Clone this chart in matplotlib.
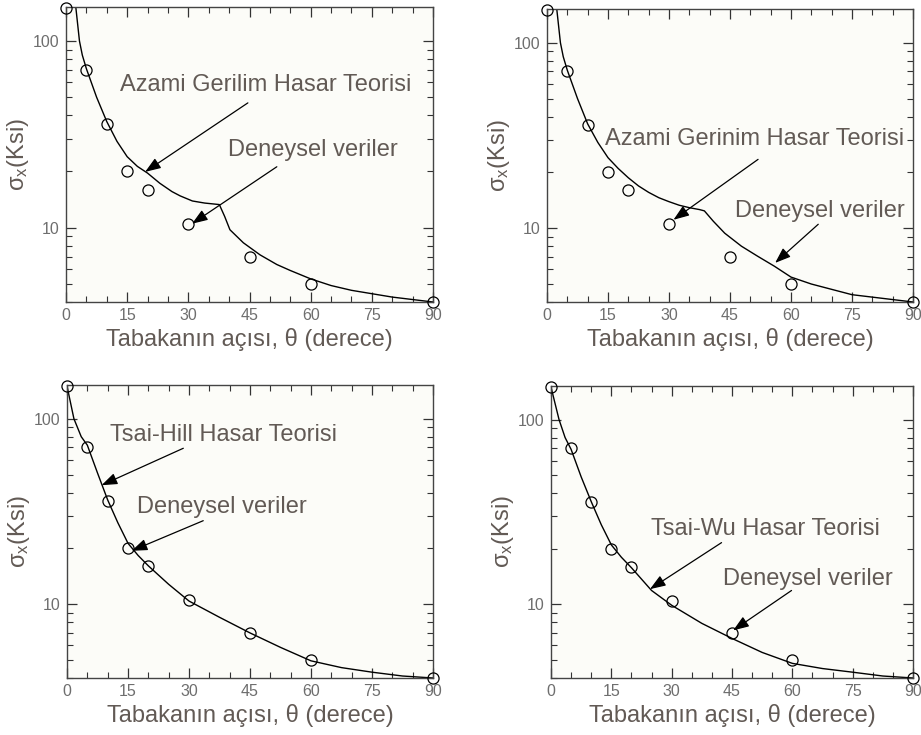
import matplotlib
matplotlib.use("Agg")
import matplotlib.pyplot as plt
from matplotlib.ticker import MultipleLocator, FixedLocator, FixedFormatter, LogLocator, NullFormatter

plt.rcParams['font.family'] = ['Liberation Sans', 'DejaVu Sans']
plt.rcParams['mathtext.fontset'] = 'custom'
plt.rcParams['mathtext.rm'] = 'Liberation Sans'
plt.rcParams['mathtext.it'] = 'Liberation Sans'

# deneysel veriler (ayni noktalar dort grafikte de var)
theta_exp = [0, 5, 10, 15, 20, 30, 45, 60, 90]
sigma_exp = [150, 70, 36, 20, 16, 10.5, 7, 5, 4]

# azami gerilim
theta_ms = [2.4, 3.3, 4, 5, 7.5, 10, 12.5, 15, 17.5, 20, 23, 26, 28, 31, 34, 37.6,
            38.9, 40.2, 43.5, 47.6, 51.7, 55, 60, 65, 70, 80, 90]
sigma_ms = [152, 100, 84, 71, 50, 37, 29, 24, 21.3, 19.6, 17.3, 15.6, 14.8, 13.9, 13.55, 13.3,
            11.5, 9.75, 8.3, 7.15, 6.35, 5.9, 5.32, 4.9, 4.62, 4.25, 4.0]

# azami gerinim
theta_me = [2.4, 3.3, 4, 5, 7.5, 10, 12.5, 15, 17.5, 20, 22.5, 25, 27.5, 30, 32.5, 35, 37.5,
            38.7, 40.9, 43.7, 47.8, 51.8, 55.9, 60, 65, 75, 90]
sigma_me = [152, 100, 84, 71, 50, 36.5, 29, 24, 21, 18.7, 16.9, 15.6, 14.6, 13.9, 13.3, 12.9, 12.6,
            12.4, 10.9, 9.4, 8.0, 7.06, 6.24, 5.45, 5.0, 4.38, 4.0]

# tsai-hill
theta_th = [0, 1.7, 3.5, 5, 7.5, 10, 12.5, 15, 17.5, 20, 25, 30, 37.5, 45, 52.5,
            60, 67.5, 75, 82.5, 90]
sigma_th = [150, 100, 80, 72, 51, 36.5, 27.5, 21.3, 18.3, 16.1, 12.8, 10.4, 8.5, 7.0, 5.85,
            4.95, 4.55, 4.3, 4.1, 4.0]

# tsai-wu
theta_tw = [0, 2, 3.5, 5, 7.5, 10, 12.5, 15, 17.5, 20, 25, 30, 37.5, 45, 52.5,
            60, 67.5, 75, 82.5, 90]
sigma_tw = [150, 100, 80, 69, 49, 36, 27, 21, 18, 15.8, 11.9, 9.9, 7.9, 6.55, 5.5,
            4.8, 4.5, 4.3, 4.1, 4.0]

theory_labels = ['Azami Gerilim Hasar Teorisi', 'Azami Gerinim Hasar Teorisi',
                 'Tsai-Hill Hasar Teorisi', 'Tsai-Wu Hasar Teorisi']
exp_label = 'Deneysel veriler'

text_col = '#625a55'
tick_col = '#6e6e6e'

fig = plt.figure(figsize=(9.21, 7.35), dpi=100)

boxes = [(66, 7, 433, 302), (547, 9, 913, 302), (67, 385, 433, 678), (551, 386, 913, 678)]
curves = [(theta_ms, sigma_ms), (theta_me, sigma_me), (theta_th, sigma_th), (theta_tw, sigma_tw)]
# (text1 xy, arrow1 tail, arrow1 head, text2 xy, arrow2 tail, arrow2 head)
notes = [
    ((48.9, 58.2), (44.6, 46.6), (19.4, 19.9), (60.6, 26.1), (51.7, 21.2), (30.9, 10.5)),
    ((51.1, 30.2), (51.9, 23.5), (31.1, 11.1), (67.0, 12.4), (66.7, 10.5), (56.1, 6.5)),
    ((38.6, 81.9), (28.6, 69.3), (8.5, 43.8), (38.0, 33.4), (33.5, 28.2), (15.9, 19.4)),
    ((53.4, 25.5), (42.4, 21.6), (24.6, 12.1), (63.9, 13.7), (59.8, 11.9), (45.3, 7.24)),
]

W, H = 921, 735
for i in range(4):
    l, t, r, b = boxes[i]
    ax = fig.add_axes([l / W, 1 - b / H, (r - l) / W, (b - t) / H])
    ax.set_facecolor('#fcfcf8')
    th, sg = curves[i]
    ax.plot(th, sg, color='black', lw=1.0)
    ax.plot(theta_exp, sigma_exp, 'o', mfc='none', mec='black', ms=8, mew=0.9, clip_on=False, zorder=5)

    ax.set_yscale('log')
    ax.set_xlim(0, 90)
    ax.set_ylim(4, 152)
    ax.xaxis.set_major_locator(MultipleLocator(15))
    ax.xaxis.set_minor_locator(MultipleLocator(5))
    ax.yaxis.set_major_locator(FixedLocator([10, 100]))
    ax.yaxis.set_major_formatter(FixedFormatter(['10', '100']))
    ax.yaxis.set_minor_locator(LogLocator(subs=range(2, 10)))
    ax.yaxis.set_minor_formatter(NullFormatter())
    ax.tick_params(which='both', direction='in', top=True, right=True, colors='#333333',
                   labelcolor=tick_col, labelsize=11.5)
    ax.tick_params(which='major', length=7, width=0.9)
    ax.tick_params(which='minor', length=4, width=0.8)
    ax.tick_params(axis='x', pad=4)
    ax.tick_params(axis='y', pad=5)
    for s in ax.spines.values():
        s.set_color('#444444')
        s.set_linewidth(1.0)

    ax.set_xlabel('Tabakanın açısı, θ (derece)', fontsize=17, color=text_col, labelpad=4)
    ax.set_ylabel('σ$_\\mathrm{x}$(Ksi)', fontsize=17, color=text_col, labelpad=1)

    t1, a1, h1, t2, a2, h2 = notes[i]
    ax.text(t1[0], t1[1], theory_labels[i], fontsize=17, color=text_col, ha='center', va='center')
    ax.text(t2[0], t2[1], exp_label, fontsize=17, color=text_col, ha='center', va='center')
    for tail, head in ((a1, h1), (a2, h2)):
        ax.annotate('', xy=head, xytext=tail,
                    arrowprops=dict(arrowstyle='-|>,head_length=0.95,head_width=0.35',
                                    color='black', lw=0.9, shrinkA=0, shrinkB=0))

fig.savefig('out.png', dpi=100)
